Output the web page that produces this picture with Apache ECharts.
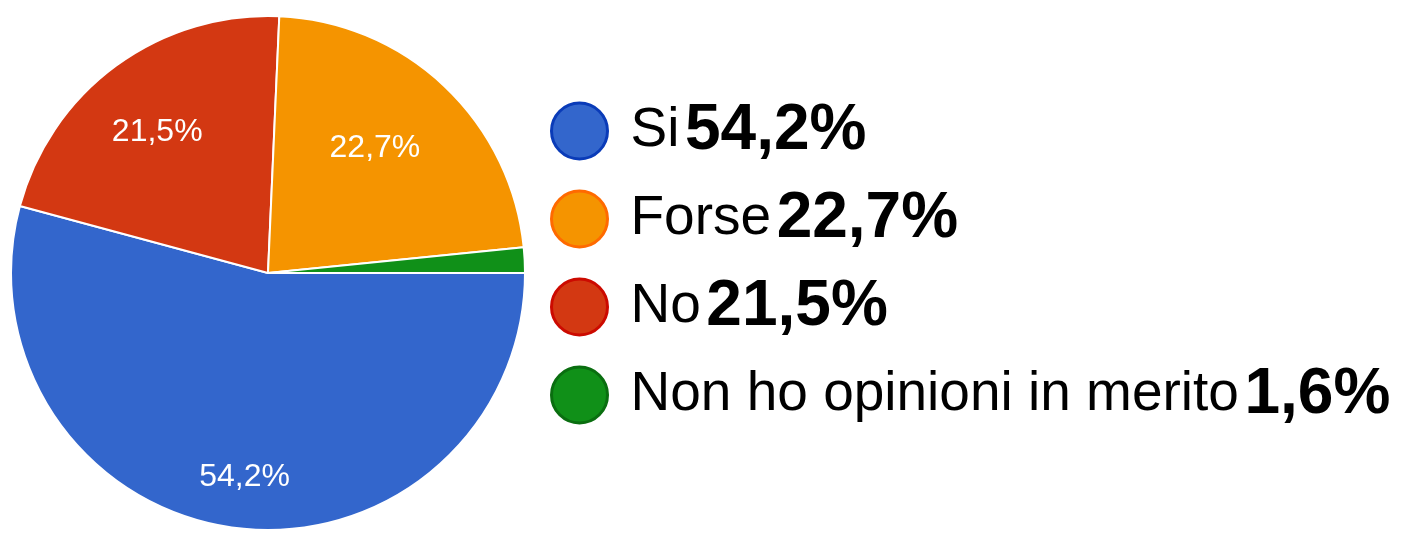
<!DOCTYPE html>
<html>
<head>
<meta charset="utf-8">
<script src="https://cdn.jsdelivr.net/npm/echarts@6/dist/echarts.min.js"></script>
<style>
html,body{margin:0;padding:0;background:#fff;}
#chart{width:1402px;height:533px;}
</style>
</head>
<body>
<div id="chart"></div>
<script>
// legend order
const categories = ['Si', 'Forse', 'No', 'Non ho opinioni in merito'];
const percents = [54.2, 22.7, 21.5, 1.6];
// order of slices going clockwise from 3 o'clock
const drawOrder = ['Si', 'No', 'Forse', 'Non ho opinioni in merito'];
const showSliceLabel = ['Si', 'No', 'Forse'];

const fills = {'Si': '#3366CC', 'Forse': '#F59400', 'No': '#D33812', 'Non ho opinioni in merito': '#109018'};
const rims = {'Si': '#0A3BB8', 'Forse': '#FF6A00', 'No': '#CC0A00', 'Non ho opinioni in merito': '#0A6E10'};

function fmt(v){
    return v.toFixed(1).replace('.', ',') + '%';
}
function pctOf(name){
    return percents[categories.indexOf(name)];
}

const chart = echarts.init(document.getElementById('chart'));

const pieData = drawOrder.map(function(n){
    return {name: n, value: pctOf(n), itemStyle: {color: fills[n]}};
});

const labelData = drawOrder.map(function(n){
    return {name: n, value: pctOf(n), label: {show: showSliceLabel.indexOf(n) >= 0}};
});

// google puts the slice labels at uneven depths, nudge a couple of them
const labelNudge = {'Si': [0, 28], 'No': [-6, 2], 'Forse': [-15, 4]};

const option = {
    animation: false,
    legend: {
        orient: 'vertical',
        left: 545,
        top: 94,
        icon: 'circle',
        itemWidth: 56,
        itemHeight: 56,
        itemGap: 24,
        selectedMode: false,
        data: categories.map(function(n){
            return {name: n, itemStyle: {color: fills[n], borderColor: rims[n], borderWidth: 3}};
        }),
        formatter: function(name){
            return '{n|' + name + '}{s| }{p|' + fmt(pctOf(name)) + '}';
        },
        textStyle: {
            color: '#000',
            fontFamily: 'Liberation Sans',
            fontSize: 55,
            padding: [0, 0, 0, 18],
            rich: {
                n: {fontSize: 55, color: '#000', fontFamily: 'Liberation Sans', lineHeight: 56},
                s: {fontSize: 20, fontFamily: 'Liberation Sans', lineHeight: 56},
                p: {fontSize: 64, fontWeight: 'bold', color: '#000', fontFamily: 'Liberation Sans', lineHeight: 56}
            }
        }
    },
    series: [
        {
            name: 'pie',
            type: 'pie',
            center: [268, 273],
            radius: [0, 257],
            startAngle: 0,
            clockwise: true,
            silent: true,
            label: {show: false},
            labelLine: {show: false},
            itemStyle: {borderColor: '#fff', borderWidth: 2},
            data: pieData
        },
        {
            name: 'labels',
            type: 'pie',
            center: [268, 273],
            radius: [92, 257],
            startAngle: 0,
            clockwise: true,
            silent: true,
            itemStyle: {color: 'rgba(0,0,0,0)'},
            label: {
                position: 'inside',
                color: '#fff',
                fontFamily: 'Liberation Sans',
                fontSize: 32,
                formatter: function(p){ return fmt(p.value); }
            },
            labelLine: {show: false},
            labelLayout: function(params){
                const d = labelNudge[drawOrder[params.dataIndex]];
                return d ? {dx: d[0], dy: d[1]} : {};
            },
            data: labelData
        }
    ]
};

chart.setOption(option);
</script>
</body>
</html>
